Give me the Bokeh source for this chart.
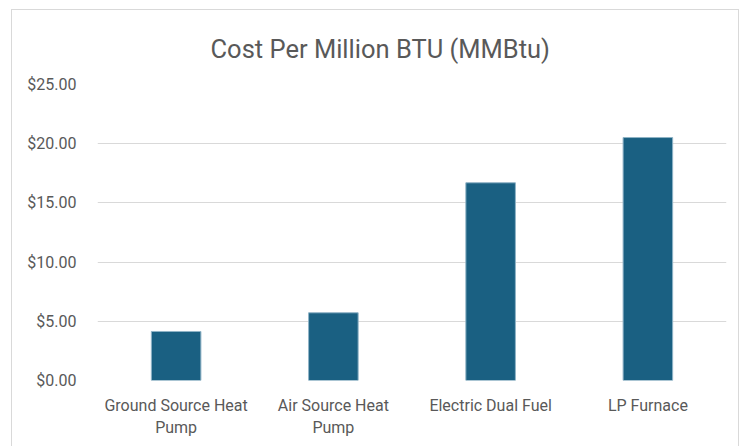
from bokeh.plotting import figure
from bokeh.models import Title, NumeralTickFormatter, FixedTicker, Range1d
from bokeh.embed import file_html
from bokeh.resources import INLINE

categories = ["Ground Source Heat\nPump", "Air Source Heat\nPump", "Electric Dual Fuel", "LP Furnace"]
costs = [4.14, 5.72, 16.70, 20.52]
y_ticks = [0, 5, 10, 15, 20, 25]
title_text = "Cost Per Million BTU (MMBtu)"

FONT = "Roboto"
TXT = "#595959"

p = figure(x_range=categories, y_range=Range1d(0, 25), width=728, height=437,
           output_backend="svg", toolbar_location=None,
           min_border_left=85, min_border_right=14, min_border_top=74, min_border_bottom=67,
           margin=(9, 0, 0, 11),
           styles={"border-top": "1px solid #d9d9d9", "border-left": "1px solid #d9d9d9",
                   "border-right": "1px solid #d9d9d9", "box-sizing": "border-box"})

p.vbar(x=categories, top=costs, width=0.315, fill_color="#1a6082",
       line_color="#8fb3c6", line_width=1)

p.outline_line_color = None
p.background_fill_color = "white"
p.border_fill_color = "white"

p.xgrid.grid_line_color = None
p.ygrid.grid_line_color = "#d9d9d9"
p.ygrid.grid_line_width = 1

p.yaxis.ticker = FixedTicker(ticks=y_ticks)
p.yaxis.formatter = NumeralTickFormatter(format="$0.00")
for ax in (p.xaxis, p.yaxis):
    ax.axis_line_color = None
    ax.major_tick_line_color = None
    ax.minor_tick_line_color = None
    ax.major_label_text_font = FONT
    ax.major_label_text_font_size = "16px"
    ax.major_label_text_color = TXT
p.xaxis.major_label_standoff = 9
p.yaxis.major_label_standoff = 15

p.add_layout(Title(text=title_text, align="left", offset=113, standoff=42,
                   text_font=FONT, text_font_size="25.5px", text_font_style="normal",
                   text_color=TXT), "above")

open("out.html", "w").write(file_html(p, INLINE))
